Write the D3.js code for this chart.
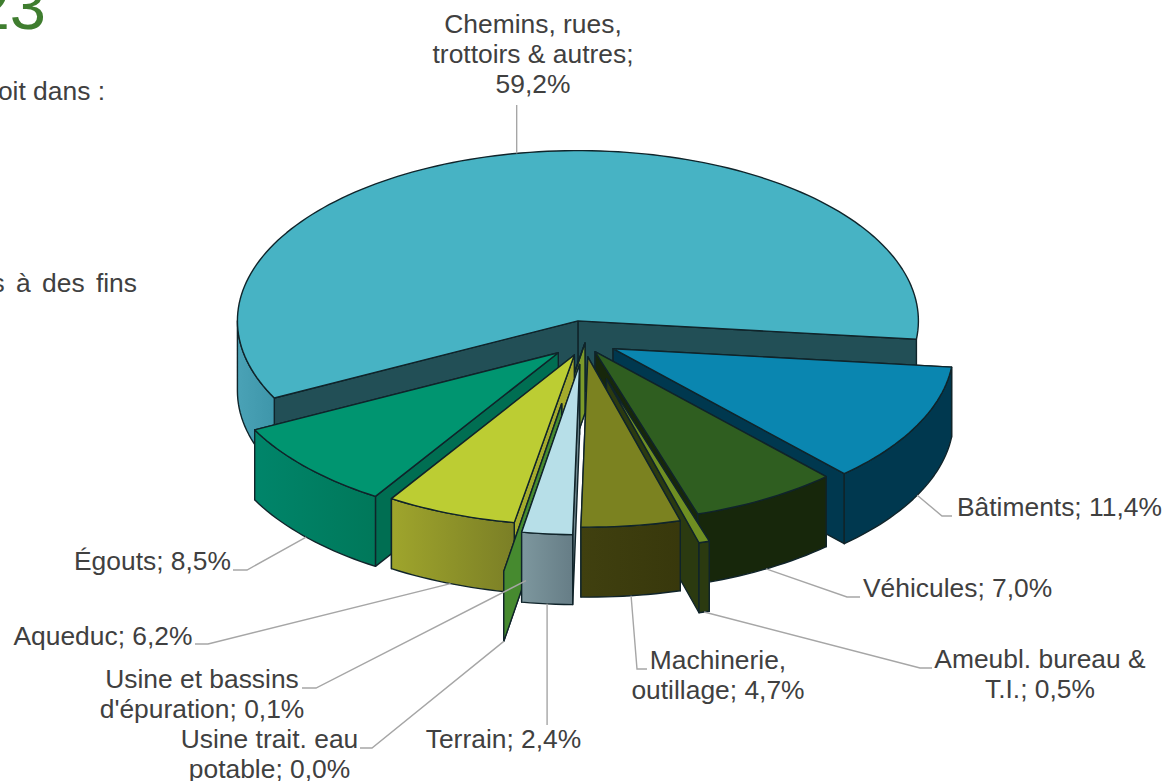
<!DOCTYPE html>
<html lang="fr">
<head>
<meta charset="utf-8">
<style>
html,body{margin:0;padding:0;background:#fff;overflow:hidden}
svg{display:block}
text{font-family:"Liberation Sans",Arial,sans-serif;fill:#404040}
</style>
</head>
<body>
<svg id="chart" width="1164" height="781"></svg>
<script src="https://cdn.jsdelivr.net/npm/d3@7/dist/d3.min.js"></script>
<script>
// ---- data ----
const categories = ["Bâtiments","Véhicules","Ameubl. bureau & T.I.","Machinerie, outillage","Terrain","Usine trait. eau potable","Usine et bassins d'épuration","Aqueduc","Égouts","Chemins, rues, trottoirs & autres"];
const shares = [11.4,7.0,0.5,4.7,2.4,0.0,0.1,6.2,8.5,59.2];
const labelLines = [
  ["Bâtiments; 11,4%"],["Véhicules; 7,0%"],["Ameubl. bureau &","T.I.; 0,5%"],["Machinerie,","outillage; 4,7%"],
  ["Terrain; 2,4%"],["Usine trait. eau","potable; 0,0%"],["Usine et bassins","d'épuration; 0,1%"],
  ["Aqueduc; 6,2%"],["Égouts; 8,5%"],["Chemins, rues,","trottoirs & autres;","59,2%"]
];

// ---- presentation ----
const explode = [32,20,75,30,46,125,0,28,32,45];
const nudge = [[-0.5,-1.5],[0,0],[0,0],[-1,-1],[-1,-1.5],[-2,-1],[0,0],[-0.5,-1],[-3,-1],[1,0]];
const topFill = ["#0a86b0","#2f5e20","#6f8f22","#7b8220","#b7dfe8","#468a2f","#7c9a2a","#bccd33","#009570","#47b3c4"];
const wallFill = ["#00384f","#17270b","#2b3a10","#38380c","#6f868e","#468a2f","#7c9a2a","#a4ab2c","#006e52","#224f56"];
const sideFrom = ["#00384f","#17270b","#2b3a10","#40400f","#7d979e","#468a2f","#7c9a2a","#9fa52c","#00856a","#4aa2b6"];
const sideTo   = ["#00384f","#17270b","#2b3a10","#38380c","#667d86","#468a2f","#7c9a2a","#7b7f26","#00785a","#3e96aa"];
const paintOrder = [9,0,1,8,6,7,5,2,3,4];
// label placement: [elbow x, elbow y, end x, text x, first baseline, text anchor]
const labelPlace = [
  [942,516,952,957,516,"start"],
  [847,597,860,863,597,"start"],
  [920,668,932,1040,668,"middle"],
  [637,669,647,718,669,"middle"],
  [null,725,null,503.5,748,"middle"],
  [372,748,360,269.5,748,"middle"],
  [316,688,302,202,688,"middle"],
  [208,644,195,103,645,"middle"],
  [247,570,233,152.5,570,"middle"],
  [null,105,null,533,33,"middle"]
];

const cx = 585, cy = 343, R = 340.5, tilt = 0.5, depth = 70;
const svg = d3.select("#chart");
const defs = svg.append("defs");

const deg = Math.PI/180;
const pie = d3.pie().value(d=>d).sort(null).startAngle(96.2*deg).endAngle((96.2+360)*deg);
const arcs = pie(shares);

const rx = d3.scaleLinear().domain([0,1]).range([0,R]);
const ry = d3.scaleLinear().domain([0,1]).range([0,R*tilt]);
const pt = (a,t,c,dz=0)=>[c[0]+rx(t)*Math.sin(a), c[1]-ry(t)*Math.cos(a)+dz];
const apexOf = i=>{const m=(arcs[i].startAngle+arcs[i].endAngle)/2;
  return [cx+explode[i]*Math.sin(m)+nudge[i][0], cy-explode[i]*tilt*Math.cos(m)+nudge[i][1]];};
const line = d3.line();
const arcPts = (a0,a1,c,dz=0)=>{const n=Math.max(2,Math.ceil((a1-a0)/(deg*1.5)));
  return d3.range(n+1).map(k=>pt(a0+(a1-a0)*k/n,1,c,dz));};
const STROKE = "#10242a";
const style = sel=>sel.attr("stroke",STROKE).attr("stroke-width",1.4).attr("stroke-linejoin","round");

paintOrder.forEach(i=>{
  const d = arcs[i], c = apexOf(i), g = svg.append("g").attr("class","slice");
  const gid = "side"+i;
  const grad = defs.append("linearGradient").attr("id",gid);
  grad.append("stop").attr("offset","0%").attr("stop-color",sideFrom[i]);
  grad.append("stop").attr("offset","100%").attr("stop-color",sideTo[i]);
  // radial walls: the one turned towards the viewer is painted last
  const near = a=>Math.abs(a-180*deg);
  [d.startAngle,d.endAngle].sort((a,b)=>near(b)-near(a)).forEach(a=>{
    const o = pt(a,1,c);
    g.append("path").attr("d",line([c,o,[o[0],o[1]+depth],[c[0],c[1]+depth]])+"Z")
      .attr("fill",wallFill[i]).call(style);
  });
  // outer rim, only the half that faces the viewer
  const lo = Math.max(d.startAngle,90*deg), hi = Math.min(d.endAngle,270*deg);
  if(hi>lo){
    const top = arcPts(lo,hi,c), bot = arcPts(lo,hi,c,depth).reverse();
    g.append("path").attr("d",line(top.concat(bot))+"Z").attr("fill",`url(#${gid})`).call(style);
  }
  // top face
  if(d.endAngle>d.startAngle){
    g.append("path").attr("d",line([c].concat(arcPts(d.startAngle,d.endAngle,c)))+"Z")
      .attr("fill",topFill[i]).call(style);
  }
});

// leaders and labels
const gL = svg.append("g");
labelPlace.forEach((p,i)=>{
  const m = (arcs[i].startAngle+arcs[i].endAngle)/2;
  const back = Math.cos(m)>0;
  const s = pt(m,1,apexOf(i),back?0:depth);
  const pts = p[0]===null ? [s,[s[0],p[1]]] : [s,[p[0],p[1]],[p[2],p[1]]];
  gL.append("path").attr("d",line(pts)).attr("fill","none").attr("stroke","#a6a6a6").attr("stroke-width",1.4);
  const t = gL.append("text").attr("text-anchor",p[5]).attr("font-size",26.4);
  labelLines[i].forEach((ln,k)=>t.append("tspan").attr("x",p[3]).attr("y",p[4]+k*30).text(ln));
});

// fragments of the surrounding page
svg.append("text").attr("x",46).attr("y",29).attr("text-anchor","end").attr("font-size",65).style("fill","#3f7d2f").text("23");
svg.append("text").attr("x",105).attr("y",100).attr("text-anchor","end").attr("font-size",26.4).text("oit dans :");
svg.append("text").attr("x",137).attr("y",292).attr("text-anchor","end").attr("font-size",26.4).attr("word-spacing",4).text("s à des fins");
</script>
</body>
</html>
